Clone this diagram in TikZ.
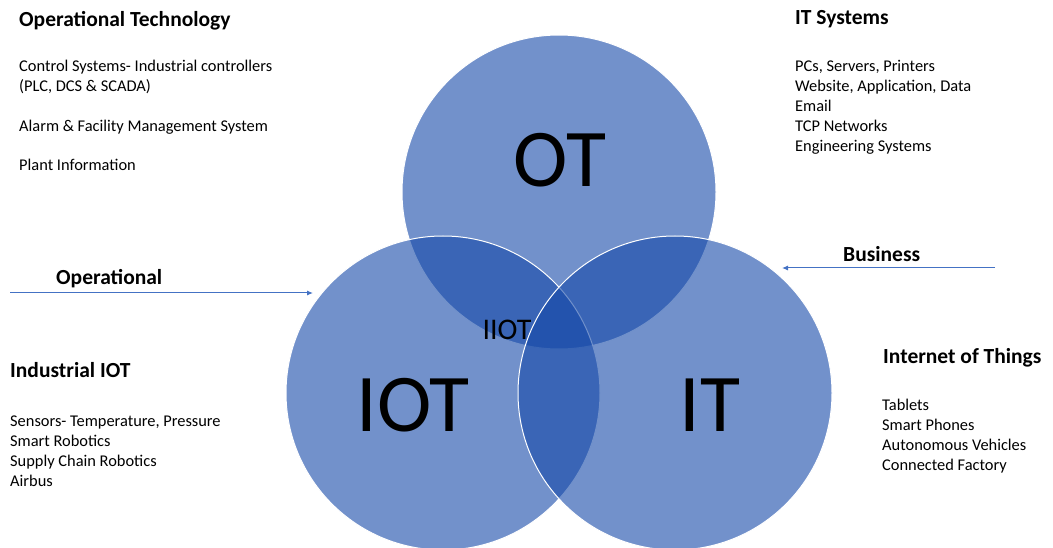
\documentclass[tikz,border=0pt]{standalone}
\usepackage{fontspec}
\setmainfont{Carlito}
\usepackage{xcolor}
\usetikzlibrary{positioning, arrows.meta}
\definecolor{vennblue}{RGB}{20,72,168}
\definecolor{flowblue}{RGB}{68,114,196}

\begin{document}
\begin{tikzpicture}[x=1pt, y=-1pt,
  set/.style={circle, minimum size=314pt, inner sep=0pt, fill=vennblue, fill opacity=0.6, draw=white, line width=1pt},
  big/.style={inner sep=0pt, font=\fontsize{82}{90}\selectfont},
  heading/.style={anchor=base west, inner sep=0pt, font=\fontsize{21.5}{26}\selectfont\bfseries},
  items/.style={anchor=base west, inner sep=0pt, align=left, font=\fontsize{16.4}{20}\selectfont},
  flow/.style={draw=flowblue, line width=1pt, -{Latex[length=6pt,width=5pt]}}]
  \useasboundingbox (0,0) rectangle (1053,548);

  % the three sets
  \node[set] (OT) at (559,192) {};
  \node[set] (IOT) at (443,393) {};
  \node[set] (IT) at (675,393) {};
  \node[big] (OTtext) at (560,160) {OT};
  \node[big] (IOTtext) at (413,405) {IOT};
  \node[big] (ITtext) at (710,405) {IT};
  \node[inner sep=0pt, font=\fontsize{30}{34}\selectfont] (IIOTtext) at (507,330) {IIOT};

  % side notes (lists sit on their last line)
  \node[heading] (OThead) at (19,27) {Operational Technology};
  \node[items] (OTlist) at (19,171) {Control Systems- Industrial controllers\\
    (PLC, DCS \& SCADA)\\[20pt]
    Alarm \& Facility Management System\\[19pt]
    Plant Information};
  \node[heading] (IThead) at (795,25) {IT Systems};
  \node[items] (ITlist) at (795,152) {PCs, Servers, Printers\\
    Website, Application, Data\\ Email\\ TCP Networks\\ Engineering Systems};
  \node[heading] (IOThead) at (10,377) {Industrial IOT};
  \node[items] (IOTlist) at (10,486) {Sensors- Temperature, Pressure\\
    Smart Robotics\\ Supply Chain Robotics\\ Airbus};
  \node[heading] (IoThead) at (883,363) {Internet of Things};
  \node[items] (IoTlist) at (882,470) {Tablets\\ Smart Phones\\
    Autonomous Vehicles\\ Connected Factory};

  % flows
  \coordinate (opfrom) at (10,293);
  \coordinate (opto) at (313,293);
  \coordinate (bizfrom) at (995,268);
  \coordinate (bizto) at (782,268);
  \draw[flow] (opfrom) -- (opto);
  \draw[flow] (bizfrom) -- (bizto);
  \node[heading] (optext) at (56,285) {Operational};
  \node[heading] (biztext) at (843,262) {Business};
\end{tikzpicture}
\end{document}
